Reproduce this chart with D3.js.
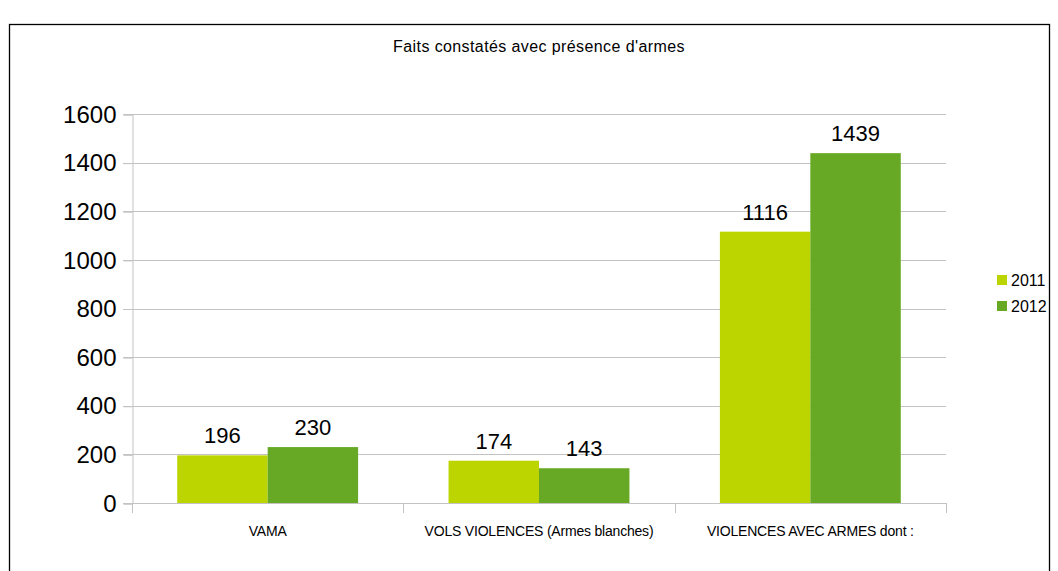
<!DOCTYPE html>
<html>
<head>
<meta charset="utf-8">
<script src="https://cdn.jsdelivr.net/npm/d3@7"></script>
<style>
  body { margin: 0; background: #fff; }
  text { font-family: "Liberation Sans", Arial, sans-serif; fill: #000; }
</style>
</head>
<body>
<div id="chart"></div>
<script>
// Data for "Faits constatés avec présence d'armes"
const categories = ["VAMA", "VOLS VIOLENCES (Armes blanches)", "VIOLENCES AVEC ARMES dont :"];
const seriesNames = ["2011", "2012"];
const values2011 = [196, 174, 1116];
const values2012 = [230, 143, 1439];
const yTicks = [0, 200, 400, 600, 800, 1000, 1200, 1400, 1600];

const width = 1058, height = 571;
const plot = { left: 132, right: 946, top: 114, bottom: 503 };
const colors = ["#bcd400", "#67a924"];

const svg = d3.select("#chart").append("svg")
              .attr("width", width)
              .attr("height", height);

// Outer frame
svg.append("rect")
   .attr("x", 9.5).attr("y", 24.5)
   .attr("width", 1040).attr("height", 560)
   .attr("fill", "none")
   .attr("stroke", "#000")
   .attr("stroke-width", 1.3);

// Title
svg.append("text")
   .attr("x", 539).attr("y", 52)
   .attr("text-anchor", "middle")
   .style("font-size", "16px")
   .style("letter-spacing", "0.4px")
   .text("Faits constatés avec présence d'armes");

// Scales
const xScale = d3.scaleBand()
                 .domain(categories)
                 .range([plot.left, plot.right]);
const xInner = d3.scaleBand()
                 .domain(seriesNames)
                 .range([0, xScale.bandwidth()])
                 .paddingOuter(0.5);
const yScale = d3.scaleLinear()
                 .domain([0, 1600])
                 .range([plot.bottom, plot.top]);

// Gridlines
svg.append("g")
   .selectAll("line")
   .data(yTicks)
   .enter()
   .append("line")
   .attr("x1", plot.left - 9).attr("x2", plot.right)
   .attr("y1", d => Math.round(yScale(d)) + 0.5)
   .attr("y2", d => Math.round(yScale(d)) + 0.5)
   .attr("stroke", "#c3c3c3");

// Y axis
const yAxis = svg.append("g")
   .attr("transform", "translate(" + (plot.left + 0.5) + ",0.5)")
   .call(d3.axisLeft(yScale).tickValues(yTicks).tickFormat(d3.format("d")).tickSize(9).tickPadding(7));
yAxis.select(".domain").attr("stroke", "#c3c3c3");
yAxis.selectAll(".tick line").attr("stroke", "#c3c3c3");
yAxis.selectAll(".tick text")
     .style("font-size", "24px")
     .style("font-family", "'Liberation Sans', Arial, sans-serif")
     .attr("fill", "#000");

// Category separators below x axis
const seps = categories.map(c => xScale(c)).concat([plot.right]);
svg.append("g")
   .selectAll("line")
   .data(seps)
   .enter()
   .append("line")
   .attr("x1", d => Math.round(d) + 0.5).attr("x2", d => Math.round(d) + 0.5)
   .attr("y1", plot.bottom).attr("y2", plot.bottom + 10)
   .attr("stroke", "#c3c3c3");

// Bars
const groups = svg.append("g")
   .selectAll("g")
   .data(categories.map((c, i) => ({ cat: c, vals: [values2011[i], values2012[i]] })))
   .enter()
   .append("g")
   .attr("transform", d => "translate(" + xScale(d.cat) + ",0)");

groups.selectAll("rect")
   .data(d => d.vals.map((v, j) => ({ key: seriesNames[j], v: v, j: j })))
   .enter()
   .append("rect")
   .attr("x", d => xInner(d.key))
   .attr("width", xInner.bandwidth())
   .attr("y", d => yScale(d.v))
   .attr("height", d => yScale(0) - yScale(d.v))
   .attr("fill", d => colors[d.j]);

groups.selectAll("text.val")
   .data(d => d.vals.map((v, j) => ({ key: seriesNames[j], v: v })))
   .enter()
   .append("text")
   .attr("class", "val")
   .attr("x", d => xInner(d.key) + xInner.bandwidth() / 2)
   .attr("y", d => yScale(d.v) - 12)
   .attr("text-anchor", "middle")
   .style("font-size", "22px")
   .text(d => d.v);

// Category labels
svg.append("g")
   .selectAll("text")
   .data(categories)
   .enter()
   .append("text")
   .attr("x", d => xScale(d) + xScale.bandwidth() / 2)
   .attr("y", 536)
   .attr("text-anchor", "middle")
   .style("font-size", "14px")
   .style("letter-spacing", "-0.2px")
   .text(d => d);

// Legend
const legend = svg.append("g")
   .selectAll("g")
   .data(seriesNames)
   .enter()
   .append("g")
   .attr("transform", (d, i) => "translate(997," + (275 + i * 26) + ")");
legend.append("rect")
   .attr("x", 0).attr("y", 0)
   .attr("width", 10).attr("height", 10)
   .attr("fill", (d, i) => colors[i]);
legend.append("text")
   .attr("x", 14).attr("y", 11)
   .style("font-size", "16px")
   .text(d => d);
</script>
</body>
</html>
